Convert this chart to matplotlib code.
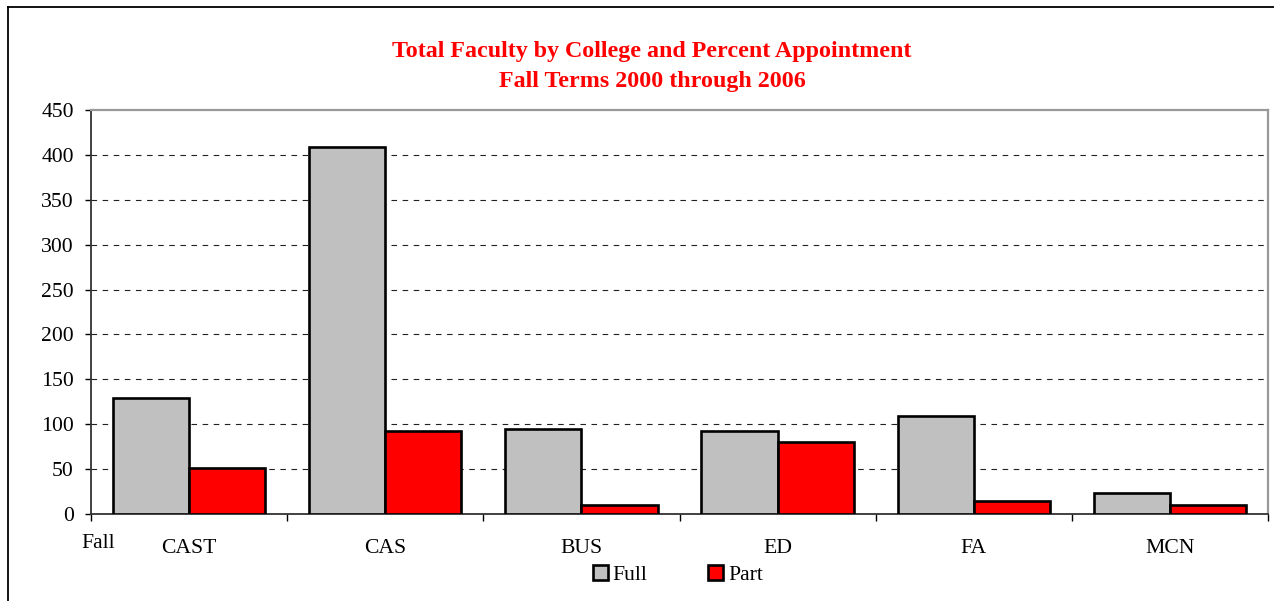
import matplotlib
matplotlib.use("Agg")
import matplotlib.pyplot as plt
from matplotlib.patches import Patch
from matplotlib.lines import Line2D
import numpy as np

categories = ["CAST", "CAS", "BUS", "ED", "FA", "MCN"]
full_values = [129, 409, 95, 92, 109, 23]
part_values = [51, 92, 10, 80, 14, 10]
y_ticks = [0, 50, 100, 150, 200, 250, 300, 350, 400, 450]
title_lines = ["Total Faculty by College and Percent Appointment",
               "Fall Terms 2000 through 2006"]
series_names = ["Full", "Part"]

plt.rcParams['font.family'] = ['Liberation Serif', 'DejaVu Serif']

W, H = 1274, 601
fig = plt.figure(figsize=(W / 100, H / 100), dpi=100)
ax = fig.add_axes([91 / W, 1 - 514 / H, (1268 - 91) / W, (514 - 110) / H])

x = np.arange(len(categories))
bw = 0.388
ax.bar(x - bw, full_values, width=bw, align='edge', color='#C0C0C0',
       edgecolor='black', linewidth=1.9, zorder=3)
ax.bar(x, part_values, width=bw, align='edge', color='#FF0000',
       edgecolor='black', linewidth=1.9, zorder=3)

ax.set_xlim(-0.5, len(categories) - 0.5)
ax.set_ylim(0, 450)
ax.set_yticks(y_ticks)
ax.set_yticklabels([str(v) for v in y_ticks], fontsize=15.6)
ax.tick_params(axis='y', direction='out', length=4.5, width=1, pad=8)

ax.set_xticks(x)
ax.set_xticklabels(categories, fontsize=15.6)
ax.tick_params(axis='x', which='major', length=0, pad=18)
ax.set_xticks(np.arange(-0.5, len(categories)), minor=True)
ax.tick_params(axis='x', which='minor', direction='out', length=5, width=1)

for v in y_ticks[1:-1]:
    ax.axhline(v, color='#222222', linewidth=0.8, linestyle=(0, (5, 5)), zorder=1)

ax.spines['left'].set_color('#333333')
ax.spines['left'].set_linewidth(1.3)
ax.spines['bottom'].set_color('#333333')
ax.spines['bottom'].set_linewidth(1.3)
ax.spines['top'].set_color('#999999')
ax.spines['top'].set_linewidth(1.6)
ax.spines['right'].set_color('#999999')
ax.spines['right'].set_linewidth(1.6)

fig.text(652 / W, 1 - 51 / H, title_lines[0], color='#FF0000', fontsize=17.3,
         fontweight='bold', ha='center', va='center')
fig.text(652 / W, 1 - 82 / H, title_lines[1], color='#FF0000', fontsize=17.3,
         fontweight='bold', ha='center', va='center')

fig.text(98 / W, 1 - 543 / H, "Fall", fontsize=15.6, ha='center', va='center')

handles = [Patch(facecolor='#C0C0C0', edgecolor='black', linewidth=1.9),
           Patch(facecolor='#FF0000', edgecolor='black', linewidth=1.9)]
fig.legend(handles, series_names, loc='center', bbox_to_anchor=(678 / W, 1 - 575 / H),
           ncol=2, frameon=False, fontsize=15.6, handlelength=0.7, handleheight=0.7,
           handletextpad=0.2, columnspacing=2.8, borderpad=0)

# outer frame
fig.add_artist(Line2D([8 / W, 1.0], [1 - 7 / H, 1 - 7 / H], transform=fig.transFigure,
                      color='black', linewidth=1.3))
fig.add_artist(Line2D([8 / W, 8 / W], [1 - 7 / H, 0], transform=fig.transFigure,
                      color='black', linewidth=1.3))

fig.savefig("out.png", dpi=100)
